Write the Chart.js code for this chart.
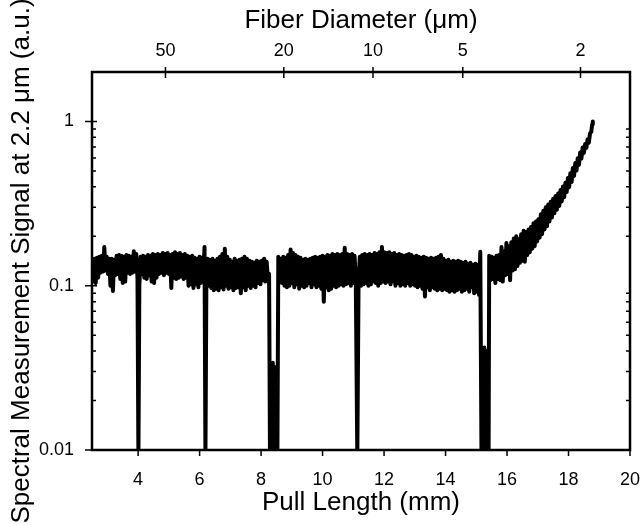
<!DOCTYPE html>
<html>
<head>
<meta charset="utf-8">
<script src="https://cdn.jsdelivr.net/npm/chart.js@4.4.0/dist/chart.umd.min.js"></script>
<style>
  html, body { margin: 0; padding: 0; background: #fff; }
</style>
</head>
<body>
<canvas id="chart" width="642" height="525"></canvas>
<script>
const pullLength = [
    2.50, 2.54, 2.58, 2.62, 2.66, 2.70, 2.74, 2.78, 2.82, 2.86,
    2.90, 2.94, 2.98, 3.02, 3.06, 3.10, 3.14, 3.18, 3.22, 3.26,
    3.30, 3.34, 3.38, 3.42, 3.46, 3.50, 3.54, 3.58, 3.62, 3.66,
    3.70, 3.74, 3.78, 3.82, 3.86, 3.90, 3.94, 3.98, 4.01, 4.04,
    // 4 - 6.2 mm
    4.08, 4.12, 4.16, 4.20, 4.24, 4.28, 4.32, 4.36, 4.40, 4.44,
    4.48, 4.52, 4.56, 4.60, 4.64, 4.68, 4.72, 4.76, 4.80, 4.84,
    4.88, 4.92, 4.96, 5.00, 5.04, 5.08, 5.12, 5.16, 5.20, 5.24,
    5.28, 5.32, 5.36, 5.40, 5.44, 5.48, 5.52, 5.56, 5.60, 5.64,
    5.68, 5.72, 5.76, 5.80, 5.84, 5.88, 5.92, 5.96, 6.00, 6.04,
    6.08, 6.12, 6.16, 6.19, 6.22,
    // 6.2 - 8.6 mm
    6.26, 6.30, 6.34, 6.38, 6.42, 6.46, 6.50, 6.54, 6.58, 6.62,
    6.66, 6.70, 6.74, 6.78, 6.82, 6.86, 6.90, 6.94, 6.98, 7.02,
    7.06, 7.10, 7.14, 7.18, 7.22, 7.26, 7.30, 7.34, 7.38, 7.42,
    7.46, 7.50, 7.54, 7.58, 7.62, 7.66, 7.70, 7.74, 7.78, 7.82,
    7.86, 7.90, 7.94, 7.98, 8.02, 8.06, 8.10, 8.14, 8.18, 8.22,
    8.26, 8.29, 8.32, 8.35, 8.38, 8.41, 8.44, 8.47, 8.50, 8.53,
    8.56,
    // 8.6 - 11.2 mm
    8.60, 8.64, 8.68, 8.72, 8.76, 8.80, 8.84, 8.88, 8.92, 8.96,
    9.00, 9.04, 9.08, 9.12, 9.16, 9.20, 9.24, 9.28, 9.32, 9.36,
    9.40, 9.44, 9.48, 9.52, 9.56, 9.60, 9.64, 9.68, 9.72, 9.76,
    9.80, 9.84, 9.88, 9.92, 9.96, 10.00, 10.04, 10.08, 10.12, 10.16,
    10.20, 10.24, 10.28, 10.32, 10.36, 10.40, 10.44, 10.48, 10.52, 10.56,
    10.60, 10.64, 10.68, 10.72, 10.76, 10.80, 10.84, 10.88, 10.92, 10.96,
    11.00, 11.04, 11.08, 11.13, 11.17,
    // 11.2 - 15.1 mm
    11.21, 11.25, 11.29, 11.33, 11.37, 11.41, 11.45, 11.49, 11.53, 11.57,
    11.61, 11.65, 11.69, 11.73, 11.77, 11.81, 11.85, 11.89, 11.93, 11.97,
    12.01, 12.05, 12.09, 12.13, 12.17, 12.21, 12.25, 12.29, 12.33, 12.37,
    12.41, 12.45, 12.49, 12.53, 12.57, 12.61, 12.65, 12.69, 12.73, 12.77,
    12.81, 12.85, 12.89, 12.93, 12.97, 13.01, 13.05, 13.09, 13.13, 13.17,
    13.21, 13.25, 13.29, 13.33, 13.37, 13.41, 13.45, 13.49, 13.53, 13.57,
    13.61, 13.65, 13.69, 13.73, 13.77, 13.81, 13.85, 13.89, 13.93, 13.97,
    14.01, 14.05, 14.09, 14.13, 14.17, 14.21, 14.25, 14.29, 14.33, 14.37,
    14.41, 14.45, 14.49, 14.53, 14.57, 14.61, 14.65, 14.69, 14.73, 14.77,
    14.81, 14.85, 14.89, 14.93, 14.97, 15.01, 15.05, 15.09,
    // dip at 15.3 mm
    15.13, 15.17, 15.20, 15.23, 15.26, 15.29, 15.32, 15.35, 15.38, 15.40,
    15.42,
    // taper waist, signal rising
    15.46, 15.50, 15.54, 15.58, 15.62, 15.66, 15.70, 15.74, 15.78, 15.82,
    15.86, 15.90, 15.94, 15.98, 16.02, 16.06, 16.10, 16.14, 16.18, 16.22,
    16.26, 16.30, 16.34, 16.38, 16.42, 16.46, 16.50, 16.54, 16.58, 16.62,
    16.66, 16.70, 16.74, 16.78, 16.82, 16.86, 16.90, 16.94, 16.98, 17.02,
    17.06, 17.10, 17.14, 17.18, 17.22, 17.26, 17.30, 17.34, 17.38, 17.42,
    17.46, 17.50, 17.54, 17.58, 17.62, 17.66, 17.70, 17.74, 17.78, 17.82,
    17.86, 17.90, 17.94, 17.98, 18.02, 18.06, 18.10, 18.14, 18.18, 18.22,
    18.26, 18.30, 18.34, 18.38, 18.42, 18.46, 18.50, 18.54, 18.58, 18.62,
    18.66, 18.70, 18.74, 18.77, 18.79
];

const signal = [
    .140, .106, .146, .104, .148, .112, .150, .120, .152, .122,
    .172, .124, .150, .118, .146, .100, .146, .093, .144, .116,
    .152, .118, .154, .110, .152, .104, .150, .106, .154, .120,
    .152, .118, .150, .120, .162, .122, .156, .110, .009, .100,
    // 4 - 6.2 mm
    .150, .118, .152, .112, .150, .110, .154, .116, .152, .106,
    .156, .104, .154, .112, .156, .118, .154, .120, .158, .116,
    .156, .120, .158, .118, .154, .097, .156, .112, .160, .110,
    .156, .112, .158, .114, .154, .110, .156, .112, .152, .100,
    .150, .102, .152, .097, .148, .102, .146, .098, .150, .104,
    .148, .112, .172, .009, .104,
    // 6.2 - 8.6 mm
    .146, .100, .144, .097, .146, .094, .142, .096, .146, .094,
    .150, .098, .156, .095, .168, .100, .150, .096, .144, .098,
    .140, .094, .146, .097, .142, .098, .144, .090, .146, .098,
    .150, .094, .146, .100, .142, .097, .140, .100, .138, .098,
    .142, .104, .140, .102, .142, .108, .146, .106, .140, .112,
    .118, .009, .030, .009, .034, .009, .032, .009, .030, .009,
    .150,
    // 8.6 - 11.2 mm
    .112, .146, .104, .150, .100, .148, .098, .154, .100, .166,
    .104, .158, .098, .154, .102, .150, .096, .148, .100, .144,
    .098, .146, .100, .144, .104, .146, .098, .148, .102, .150,
    .098, .148, .100, .150, .096, .152, .080, .150, .098, .154,
    .094, .152, .096, .156, .100, .154, .098, .156, .100, .154,
    .102, .156, .100, .170, .102, .156, .104, .154, .100, .156,
    .104, .152, .110, .009, .104,
    // 11.2 - 15.1 mm
    .150, .100, .154, .102, .156, .104, .154, .100, .156, .102,
    .154, .106, .158, .104, .156, .100, .160, .104, .172, .106,
    .160, .104, .158, .106, .160, .102, .156, .106, .158, .100,
    .154, .104, .156, .100, .154, .102, .152, .100, .154, .104,
    .156, .100, .154, .102, .150, .100, .152, .098, .150, .100,
    .148, .096, .150, .086, .148, .098, .146, .094, .148, .098,
    .146, .096, .148, .094, .150, .096, .154, .094, .146, .096,
    .142, .094, .144, .092, .140, .094, .142, .092, .140, .094,
    .142, .096, .140, .092, .138, .094, .140, .096, .136, .092,
    .138, .098, .134, .090, .136, .092, .134, .088,
    // dip at 15.3 mm
    .161, .009, .040, .009, .042, .009, .040, .009, .038, .009,
    .152,
    // taper waist, signal rising
    .108, .150, .110, .148, .104, .152, .110, .154, .108, .172,
    .106, .162, .116, .182, .118, .174, .108, .184, .124, .194,
    .126, .200, .132, .192, .138, .206, .142, .216, .140, .212,
    .154, .220, .160, .228, .168, .240, .174, .246, .186, .254,
    .196, .272, .206, .286, .220, .300, .230, .312, .246, .324,
    .260, .338, .276, .352, .290, .364, .306, .382, .326, .402,
    .346, .424, .372, .452, .398, .484, .428, .520, .466, .558,
    .503, .598, .544, .648, .594, .694, .642, .730, .690, .780,
    .742, .846, .866, .960, 1.000
];

// axis ticks
const pullTicks = [4, 6, 8, 10, 12, 14, 16, 18, 20];
const signalTicks = [0.01, 0.1, 1];
const signalTickLabels = ['0.01', '0.1', '1'];
const signalMinorTicks = [0.02, 0.03, 0.04, 0.05, 0.06, 0.07, 0.08, 0.09,
    0.2, 0.3, 0.4, 0.5, 0.6, 0.7, 0.8, 0.9];
// fiber diameter (top axis) and the pull length where each value is reached
const diameterLabels = ['50', '20', '10', '5', '2'];
const diameterPositions = [4.89, 8.74, 11.64, 14.56, 18.39];

const FONT = "'Liberation Sans', Arial, sans-serif";
const tickFont = { family: FONT, size: 18 };
const titleFont = { family: FONT, size: 26 };

// frame and tick marks, drawn over the trace like the original plot
const frameTicks = {
    id: 'frameTicks',
    afterDatasetsDraw(chart) {
        const { ctx, chartArea: a, scales } = chart;
        ctx.save();
        ctx.strokeStyle = '#000';
        ctx.lineWidth = 1.5;
        ctx.beginPath();
        pullTicks.forEach(v => {
            const px = scales.x.getPixelForValue(v);
            ctx.moveTo(px, a.bottom);
            ctx.lineTo(px, a.bottom + 6);
        });
        diameterPositions.forEach(v => {
            const px = scales.x2.getPixelForValue(v);
            ctx.moveTo(px, a.top - 5);
            ctx.lineTo(px, a.top + 6);
        });
        signalTicks.forEach(v => {
            const py = scales.y.getPixelForValue(v);
            ctx.moveTo(a.left - 7, py);
            ctx.lineTo(a.left + 5, py);
        });
        signalMinorTicks.forEach(v => {
            const py = scales.y.getPixelForValue(v);
            ctx.moveTo(a.left, py);
            ctx.lineTo(a.left + 4, py);
            ctx.moveTo(a.right, py);
            ctx.lineTo(a.right - 4, py);
        });
        ctx.stroke();
        ctx.lineWidth = 2.5;
        ctx.strokeRect(a.left, a.top, a.right - a.left, a.bottom - a.top);
        ctx.restore();
    }
};

// keep edge labels from shrinking the plot area
function noPadding(s) {
    s.paddingLeft = 0;
    s.paddingRight = 0;
    s.paddingTop = 0;
    s.paddingBottom = 0;
}

const points = pullLength.map((x, i) => ({ x: x, y: signal[i] }));

new Chart(document.getElementById('chart').getContext('2d'), {
    type: 'line',
    data: {
        datasets: [{
            data: points,
            borderColor: '#000',
            borderWidth: 4,
            pointRadius: 0,
            tension: 0,
            fill: false,
            borderJoinStyle: 'round',
            borderCapStyle: 'round'
        }]
    },
    options: {
        responsive: false,
        animation: false,
        events: [],
        layout: { padding: { left: 0, right: 12, top: 0, bottom: 0 } },
        plugins: { legend: { display: false }, tooltip: { enabled: false } },
        scales: {
            x: {
                type: 'linear',
                position: 'bottom',
                min: 2.5,
                max: 20,
                afterBuildTicks: s => { s.ticks = pullTicks.map(v => ({ value: v })); },
                afterFit: s => { noPadding(s); s.height = 75; },
                grid: { display: false, drawTicks: false },
                border: { display: false },
                ticks: { color: '#000', font: tickFont, padding: 19, autoSkip: false, maxRotation: 0 },
                title: { display: true, text: 'Pull Length (mm)', color: '#000', font: titleFont, padding: { top: 0, bottom: 7 } }
            },
            x2: {
                type: 'linear',
                position: 'top',
                min: 2.5,
                max: 20,
                afterBuildTicks: s => { s.ticks = diameterPositions.map(v => ({ value: v })); },
                afterFit: s => { noPadding(s); s.height = 72; },
                grid: { display: false, drawTicks: false },
                border: { display: false },
                ticks: { color: '#000', font: tickFont, padding: 10, autoSkip: false, maxRotation: 0,
                    callback: (v, i) => diameterLabels[i] },
                title: { display: true, text: 'Fiber Diameter (μm)', color: '#000', font: titleFont, padding: { top: 5, bottom: 0 } }
            },
            y: {
                type: 'logarithmic',
                min: 0.01,
                max: 2,
                afterBuildTicks: s => { s.ticks = signalTicks.map(v => ({ value: v })); },
                afterFit: s => { noPadding(s); s.width = 92; },
                grid: { display: false, drawTicks: false },
                border: { display: false },
                ticks: { color: '#000', font: tickFont, padding: 18, callback: (v, i) => signalTickLabels[i] },
                title: { display: true, text: 'Spectral Measurement Signal at 2.2 μm (a.u.)', color: '#000', font: titleFont, padding: { top: 6, bottom: 0 } }
            }
        }
    },
    plugins: [frameTicks]
});
</script>
</body>
</html>
